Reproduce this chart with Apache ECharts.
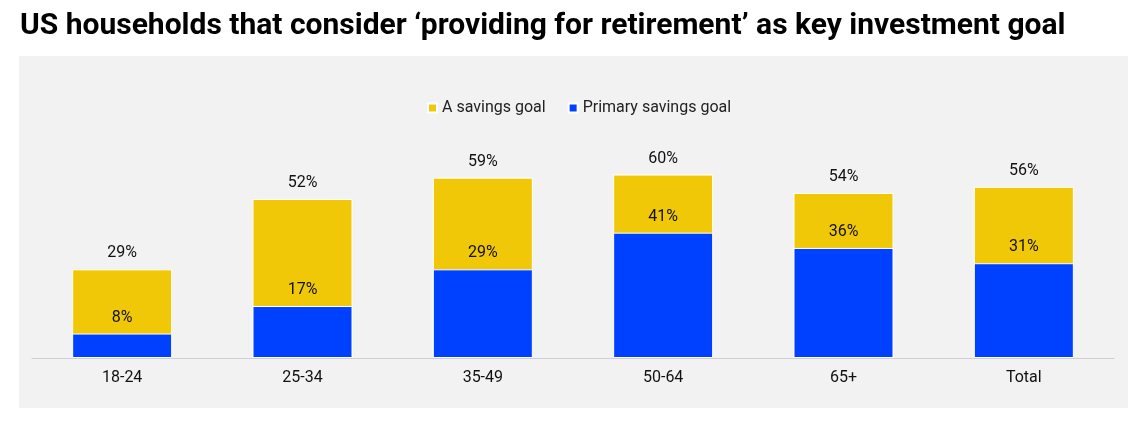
<!DOCTYPE html>
<html>
<head>
<meta charset="utf-8">
<script src="https://cdn.jsdelivr.net/npm/echarts@6/dist/echarts.min.js"></script>
<style>
  html, body { margin: 0; padding: 0; background: #fff; }
  #chart { width: 1136px; height: 428px; }
</style>
</head>
<body>
<div id="chart"></div>
<script>
// age groups on the x axis
var categories = ["18-24", "25-34", "35-49", "50-64", "65+", "Total"];
// share of households (%)
var aSavingsGoal = [29, 52, 59, 60, 54, 56];
var primaryGoal = [8, 17, 29, 41, 36, 31];

var chart = echarts.init(document.getElementById("chart"));
var font = "Roboto, 'Noto Sans', sans-serif";

var option = {
  backgroundColor: "#fff",
  textStyle: { fontFamily: font },
  animation: false,
  title: {
    text: "US households that consider \u2018providing for retirement\u2019 as key investment goal",
    left: 15,
    top: 6,
    textStyle: { fontFamily: font, fontSize: 30, fontWeight: "bold", color: "#000" }
  },
  graphic: [
    {
      type: "rect",
      z: -10,
      shape: { x: 19, y: 56, width: 1109, height: 352 },
      style: { fill: "#f2f2f2" }
    }
  ],
  legend: {
    top: 95,
    left: 422,
    itemWidth: 9,
    itemHeight: 9,
    itemGap: 22,
    icon: "rect",
    textStyle: { fontFamily: font, fontSize: 16, color: "#222" },
    data: ["A savings goal", "Primary savings goal"]
  },
  grid: { left: 32, right: 22, top: 144, bottom: 70 },
  xAxis: {
    type: "category",
    data: categories,
    axisTick: { show: false },
    axisLine: { lineStyle: { color: "#d0d0d0", width: 1 } },
    axisLabel: { fontFamily: font, fontSize: 16, color: "#111", margin: 12 }
  },
  yAxis: {
    type: "value",
    min: 0,
    max: 70,
    show: false,
    splitLine: { show: false }
  },
  series: [
    {
      name: "A savings goal",
      type: "bar",
      data: aSavingsGoal,
      barWidth: 100,
      barGap: "-100%",
      itemStyle: { color: "#f0c808", borderColor: "#fff", borderWidth: 1 },
      label: {
        show: true,
        position: "top",
        distance: 8,
        formatter: "{c}%",
        fontFamily: font,
        fontSize: 16,
        color: "#111"
      }
    },
    {
      name: "Primary savings goal",
      type: "bar",
      data: primaryGoal,
      barWidth: 100,
      itemStyle: { color: "#0040ff", borderColor: "#fff", borderWidth: 1 },
      label: {
        show: true,
        position: "top",
        distance: 8,
        formatter: "{c}%",
        fontFamily: font,
        fontSize: 16,
        color: "#111"
      }
    }
  ]
};

chart.setOption(option);
</script>
</body>
</html>
